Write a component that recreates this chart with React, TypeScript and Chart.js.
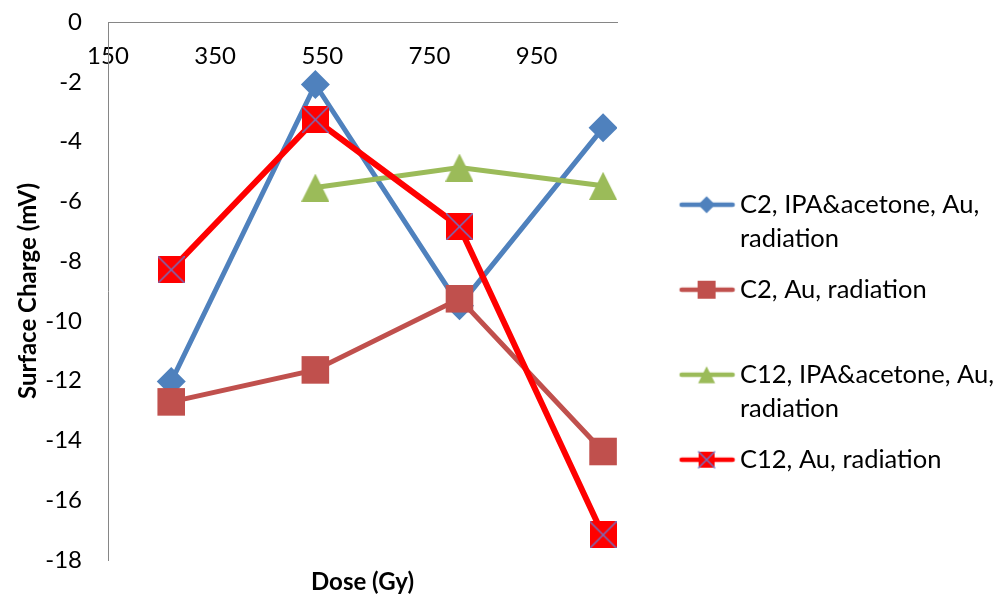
import { useEffect, useRef } from 'react';
import { Chart, registerables } from 'chart.js';

Chart.register(...registerables);

// Dose values (Gy) shared by all series
const DOSE = [268, 537, 806, 1074];

// Surface charge (mV) per series; null = not measured
const C2_IPA_AU = [-12.03, -2.09, -9.49, -3.54];
const C2_AU = [-12.71, -11.64, -9.26, -14.37];
const C12_IPA_AU = [null, -5.54, -4.87, -5.48];
const C12_AU = [-8.29, -3.27, -6.85, -17.16];

// Legend text, wrapped over two lines
const SERIES_NAMES: string[][] = [
  ['C2, IPA&acetone, Au,', 'radiation'],
  ['C2, Au, radiation', ''],
  ['C12, IPA&acetone, Au,', 'radiation'],
  ['C12, Au, radiation', ''],
];

const X_TICKS = [150, 350, 550, 750, 950];
const X_MIN = 150;
const X_MAX = 1100;
const Y_MIN = -18;
const Y_MAX = 0;
const Y_STEP = 2;

const BLUE = '#4F81BD';
const BROWN = '#C0504D';
const GREEN = '#9BBB59';
const RED = '#FF0000';
const CROSS = '#7070C0';
const AXIS = '#868686';
const FONT = 'Lato';
const LEGEND_FONT_SIZE = 25.5;

type Marker = 'diamond' | 'square' | 'triangle' | 'xsquare';

function drawMarker(ctx: CanvasRenderingContext2D, kind: Marker, cx: number, cy: number, size: number, color: string) {
  const h = size / 2;
  ctx.fillStyle = color;
  ctx.beginPath();
  if (kind === 'diamond') {
    ctx.moveTo(cx, cy - h);
    ctx.lineTo(cx + h, cy);
    ctx.lineTo(cx, cy + h);
    ctx.lineTo(cx - h, cy);
  } else if (kind === 'triangle') {
    ctx.moveTo(cx, cy - h);
    ctx.lineTo(cx + h, cy + h);
    ctx.lineTo(cx - h, cy + h);
  } else {
    ctx.rect(cx - h, cy - h, size, size);
  }
  ctx.closePath();
  ctx.fill();
  if (kind === 'xsquare') {
    ctx.strokeStyle = CROSS;
    ctx.lineWidth = 1.5;
    ctx.beginPath();
    ctx.moveTo(cx - h, cy - h);
    ctx.lineTo(cx + h, cy + h);
    ctx.moveTo(cx + h, cy - h);
    ctx.lineTo(cx - h, cy + h);
    ctx.stroke();
  }
}

function markerImage(kind: Marker, size: number, color: string) {
  const c = document.createElement('canvas');
  c.width = size;
  c.height = size;
  const ctx = c.getContext('2d')!;
  drawMarker(ctx, kind, size / 2, size / 2, size, color);
  return c;
}

// Legend symbol: a short line with the marker in its middle
function legendImage(kind: Marker, color: string, markerSize: number, lineWidth: number) {
  const c = document.createElement('canvas');
  c.width = 110;
  c.height = 24;
  const ctx = c.getContext('2d')!;
  ctx.strokeStyle = color;
  ctx.lineWidth = lineWidth;
  ctx.lineCap = 'round';
  ctx.beginPath();
  ctx.moveTo(56, 12);
  ctx.lineTo(107, 12);
  ctx.stroke();
  drawMarker(ctx, kind, 81, 12, markerSize, color);
  return c;
}

const toPoints = (vals: (number | null)[]) =>
  DOSE.map((x, i) => ({ x, y: vals[i] })).filter((p) => p.y !== null) as { x: number; y: number }[];

export default function App() {
  const canvasRef = useRef<HTMLCanvasElement | null>(null);

  useEffect(() => {
    const canvas = canvasRef.current;
    if (!canvas) return;

    const legendImages = [
      legendImage('diamond', BLUE, 17, 4.5),
      legendImage('square', BROWN, 18, 4.5),
      legendImage('triangle', GREEN, 17, 4.5),
      legendImage('xsquare', RED, 16, 4.5),
    ];

    const chart = new Chart(canvas, {
      type: 'line',
      data: {
        datasets: [
          {
            label: SERIES_NAMES[0].join(' '),
            data: toPoints(C2_IPA_AU),
            borderColor: BLUE,
            backgroundColor: BLUE,
            borderWidth: 5,
            pointStyle: 'rectRot',
            pointRadius: 14.5,
            pointBorderWidth: 0,
            pointBackgroundColor: BLUE,
            order: 4,
          },
          {
            label: SERIES_NAMES[1].join(' '),
            data: toPoints(C2_AU),
            borderColor: BROWN,
            backgroundColor: BROWN,
            borderWidth: 5,
            pointStyle: 'rect',
            pointRadius: 19.5,
            pointBorderWidth: 0,
            pointBackgroundColor: BROWN,
            order: 3,
          },
          {
            label: SERIES_NAMES[2].join(' '),
            data: toPoints(C12_IPA_AU),
            borderColor: GREEN,
            backgroundColor: GREEN,
            borderWidth: 5,
            pointStyle: markerImage('triangle', 28, GREEN),
            pointRadius: 14,
            order: 2,
          },
          {
            label: SERIES_NAMES[3].join(' '),
            data: toPoints(C12_AU),
            borderColor: RED,
            backgroundColor: RED,
            borderWidth: 6,
            pointStyle: markerImage('xsquare', 27, RED),
            pointRadius: 14,
            order: 1,
          },
        ],
      },
      options: {
        responsive: false,
        animation: false,
        events: [],
        font: { family: FONT },
        layout: { padding: { top: 22, left: 0, right: 0, bottom: 0 } },
        elements: { line: { tension: 0 } },
        scales: {
          x: {
            type: 'linear',
            min: X_MIN,
            max: X_MAX,
            position: { y: 0 },
            afterBuildTicks: (scale: any) => {
              scale.ticks = X_TICKS.map((value) => ({ value }));
            },
            afterFit: (scale: any) => {
              scale.height = 0;
              scale.paddingLeft = 0;
              scale.paddingRight = 0;
            },
            grid: { display: false, drawTicks: false },
            border: { display: true, color: AXIS, width: 1 },
            ticks: { padding: 20, autoSkip: false, maxRotation: 0, color: '#000', font: { family: FONT, size: 24 } },
          },
          xTitle: {
            type: 'linear',
            axis: 'x',
            position: 'bottom',
            grid: { display: false, drawTicks: false },
            border: { display: false },
            ticks: { display: false },
            title: {
              display: true,
              text: 'Dose (Gy)',
              color: '#000',
              font: { family: FONT, size: 24, weight: 'bold' },
              padding: { top: 0, bottom: 3 },
            },
            afterFit: (scale: any) => {
              scale.height = 40;
            },
          },
          y: {
            type: 'linear',
            min: Y_MIN,
            max: Y_MAX,
            position: 'left',
            grid: { display: false, drawTicks: false },
            border: { display: true, color: AXIS, width: 1 },
            ticks: { stepSize: Y_STEP, padding: 26, color: '#000', font: { family: FONT, size: 24 } },
            title: {
              display: true,
              text: 'Surface Charge (mV)',
              color: '#000',
              font: { family: FONT, size: 24, weight: 'bold' },
              padding: { top: 13.6, bottom: 0 },
            },
            afterFit: (scale: any) => {
              scale.width = 108;
              scale.paddingTop = 0;
              scale.paddingBottom = 0;
            },
          },
        } as any,
        plugins: {
          tooltip: { enabled: false },
          legend: {
            position: 'right',
            align: 'start',
            maxWidth: 381,
            title: { display: true, text: '', padding: { top: 138.6, bottom: 0 } },
            labels: {
              usePointStyle: true,
              pointStyleWidth: 93.25,
              padding: 17,
              color: '#000',
              font: { family: FONT, size: LEGEND_FONT_SIZE, lineHeight: '34px' } as any,
              generateLabels: (c: Chart) =>
                c.data.datasets.map((_, i) => ({
                  text: SERIES_NAMES[i] as any,
                  pointStyle: legendImages[i] as any,
                  fillStyle: 'rgba(0,0,0,0)',
                  strokeStyle: 'rgba(0,0,0,0)',
                  lineWidth: 0,
                  hidden: false,
                  datasetIndex: i,
                  fontColor: '#000',
                })),
            },
          },
        },
      },
    });

    return () => chart.destroy();
  }, []);

  return (
    <div style={{ position: 'fixed', left: 0, top: 0, width: 998, height: 600, background: '#fff' }}>
      <canvas ref={canvasRef} width={998} height={600} style={{ display: 'block' }} />
    </div>
  );
}
